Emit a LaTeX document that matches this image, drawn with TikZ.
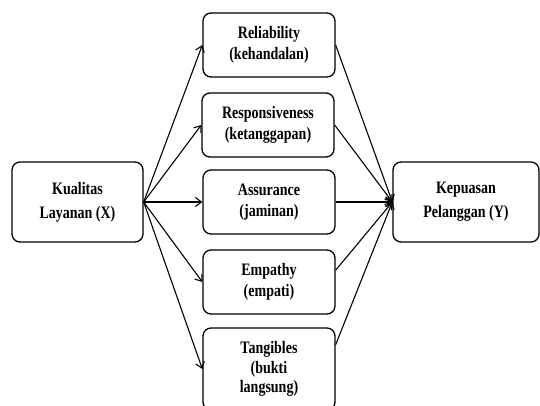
\documentclass[tikz,border=0pt]{standalone}
\usepackage{fontspec}
\setmainfont{Liberation Serif}[FakeStretch=0.8]
\usetikzlibrary{arrows.meta}
\begin{document}
\begin{tikzpicture}[x=1pt,y=-1pt]
    \useasboundingbox (0,0) rectangle (540,405);
    \begin{scope}[every node/.style={draw,line width=1.3pt,rounded corners=8pt,align=center,
        font=\fontsize{17.5}{21}\selectfont\bfseries,minimum width=132pt,minimum height=64pt,inner sep=2pt}]
      \node (kual) at (77.5,202) [minimum width=131pt,minimum height=80pt,font=\fontsize{17.5}{24}\selectfont\bfseries] {Kualitas\\Layanan (X)};
      \node (rel) at (269,45) {Reliability\\(kehandalan)};
      \node (resp) at (268,125) {Responsiveness\\(ketanggapan)};
      \node (assu) at (269,202) {Assurance\\(jaminan)};
      \node (emp) at (269,282) {Empathy\\(empati)};
      \node (tang) at (269,369) [minimum height=82pt,font=\fontsize{17.5}{19.5}\selectfont\bfseries] {Tangibles\\(bukti\\langsung)};
      \node (kep) at (466,202) [minimum width=146pt,minimum height=80pt,font=\fontsize{17.5}{24}\selectfont\bfseries] {Kepuasan\\Pelanggan (Y)};
    \end{scope}
    \begin{scope}[every edge/.style={draw=black,line width=1.1pt,-{Straight Barb[length=6pt,width=9pt]}}]
      \path (kual.east) edge (rel.west);
      \path (kual.east) edge (resp.west);
      \path (kual.east) edge (assu.west);
      \path (kual.east) edge (emp.west);
      \path (kual.east) edge (tang.west);
      \path (rel.east) edge (kep.west);
      \path (resp.east) edge (kep.west);
      \path (assu.east) edge (kep.west);
      \path (emp.10) edge (kep.west);
      \path (tang.20) edge (kep.west);
    \end{scope}
  \end{tikzpicture}
\end{document}
